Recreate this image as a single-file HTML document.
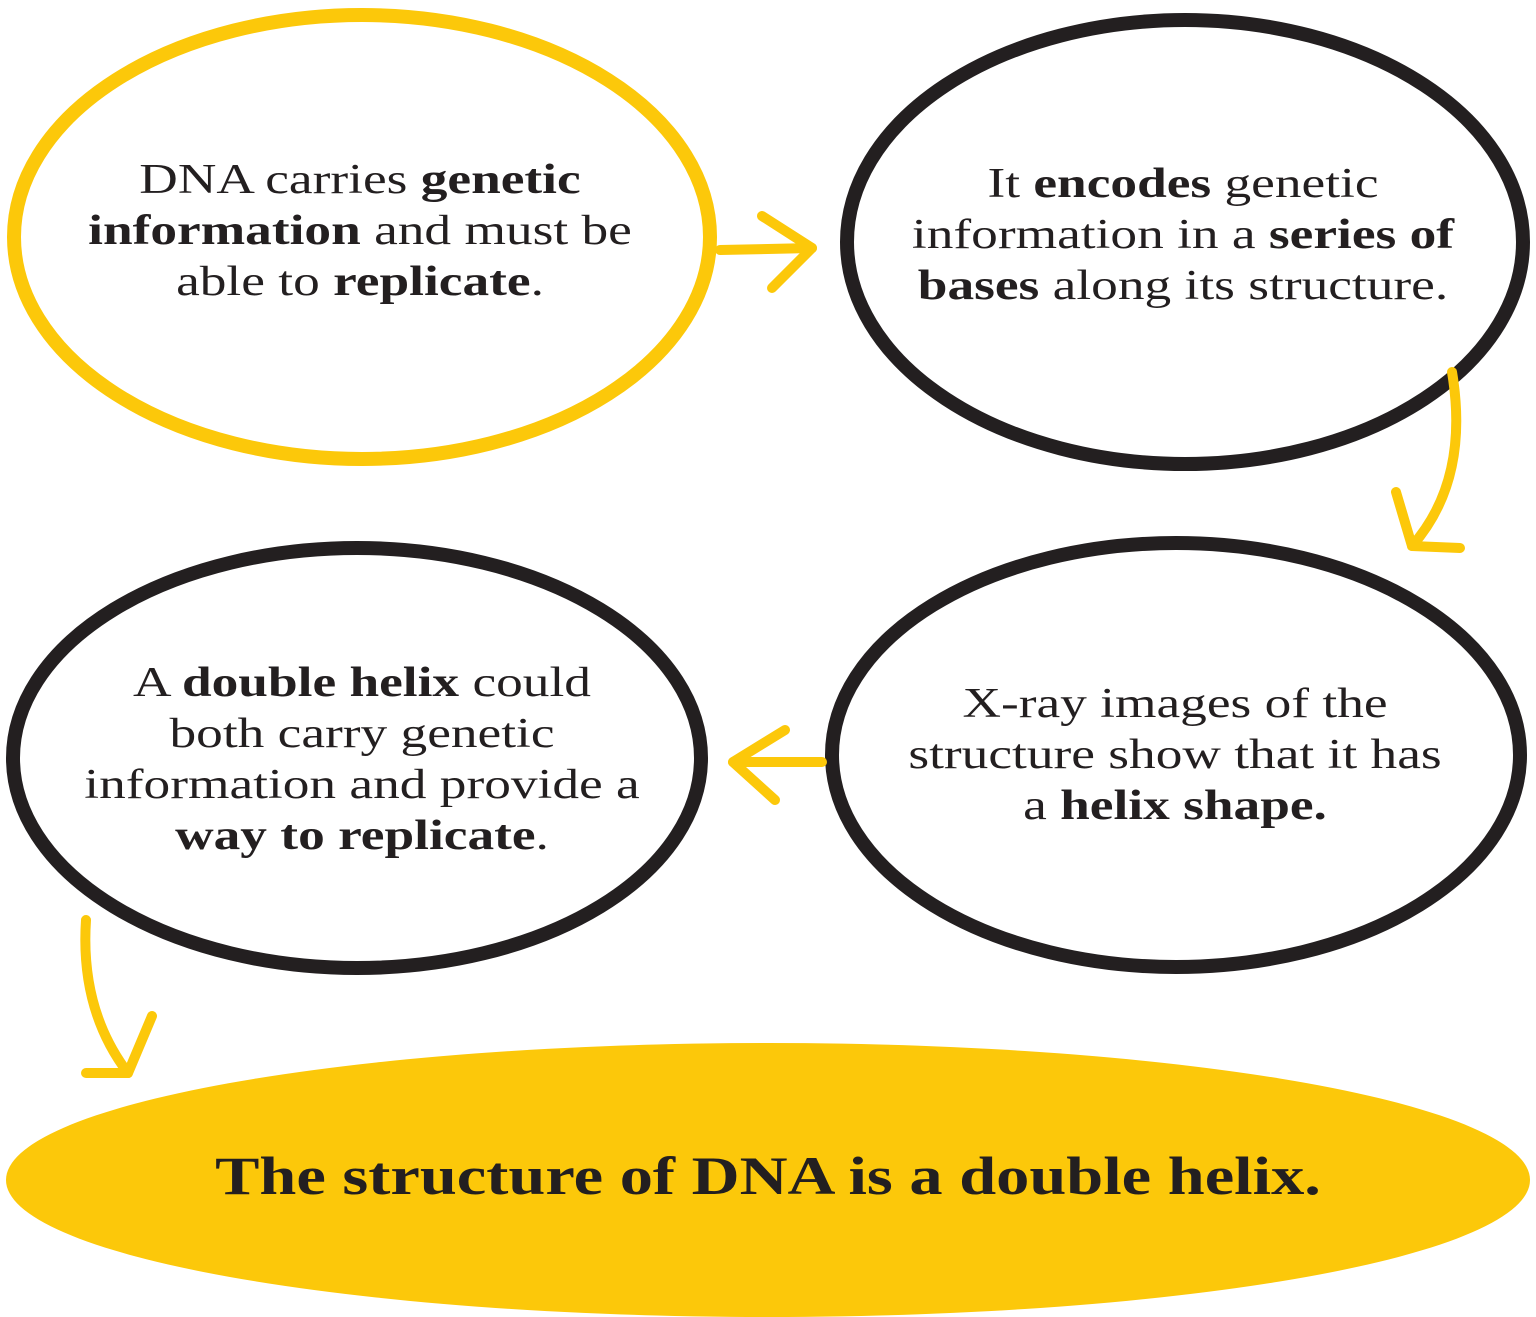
<!DOCTYPE html>
<html><head><meta charset="utf-8"><style>
html,body{margin:0;padding:0;background:#fff;}
body{width:1536px;height:1317px;position:relative;overflow:hidden;}
svg{position:absolute;left:0;top:0;}
.t{position:absolute;font-family:"Liberation Serif",serif;font-size:42px;line-height:51px;color:#231f20;text-align:center;white-space:nowrap;transform:scaleX(1.27);}
.t b{font-weight:bold;}
</style></head><body>
<svg width="1536" height="1317" viewBox="0 0 1536 1317">
<ellipse cx="768" cy="1180" rx="762" ry="137" fill="#fcc80a"/>
<ellipse cx="362" cy="237" rx="348" ry="222" fill="none" stroke="#fcc80a" stroke-width="14"/>
<ellipse cx="1185" cy="242" rx="338" ry="222" fill="none" stroke="#231f20" stroke-width="14"/>
<ellipse cx="1176" cy="755" rx="344" ry="212" fill="none" stroke="#231f20" stroke-width="14"/>
<ellipse cx="357" cy="758" rx="344" ry="210" fill="none" stroke="#231f20" stroke-width="14"/>
<g fill="none" stroke="#fcc80a" stroke-width="10" stroke-linecap="round" stroke-linejoin="round">
<path d="M720 250 L812 248"/><path d="M762 216 L812 248 L772 288"/>
<path d="M1452 372 Q1470 480 1412 546"/><path d="M1396 492 L1412 546 L1460 548"/>
<path d="M822 762 L733 762"/><path d="M785 730 L733 762 L775 800"/>
<path d="M86 920 Q80 1010 128 1073"/><path d="M152 1016 L128 1073 L86 1073"/>
</g>
</svg>
<div class="t" style="left:60px;width:600px;top:155px;">DNA carries <b>genetic</b><br><b>information</b> and must be<br>able to <b>replicate</b>.</div>
<div class="t" style="left:883px;width:600px;top:159px;">It <b>encodes</b> genetic<br>information in a <b>series of</b><br><b>bases</b> along its structure.</div>
<div class="t" style="left:875px;width:600px;top:679px;">X-ray images of the<br>structure show that it has<br>a <b>helix shape.</b></div>
<div class="t" style="left:62px;width:600px;top:658px;">A <b>double helix</b> could<br>both carry genetic<br>information and provide a<br><b>way to replicate</b>.</div>
<div class="t" style="left:0;width:1536px;top:1146px;font-size:54px;line-height:60px;font-weight:bold;transform:scaleX(1.23);">The structure of DNA is a double helix.</div>
</body></html>
